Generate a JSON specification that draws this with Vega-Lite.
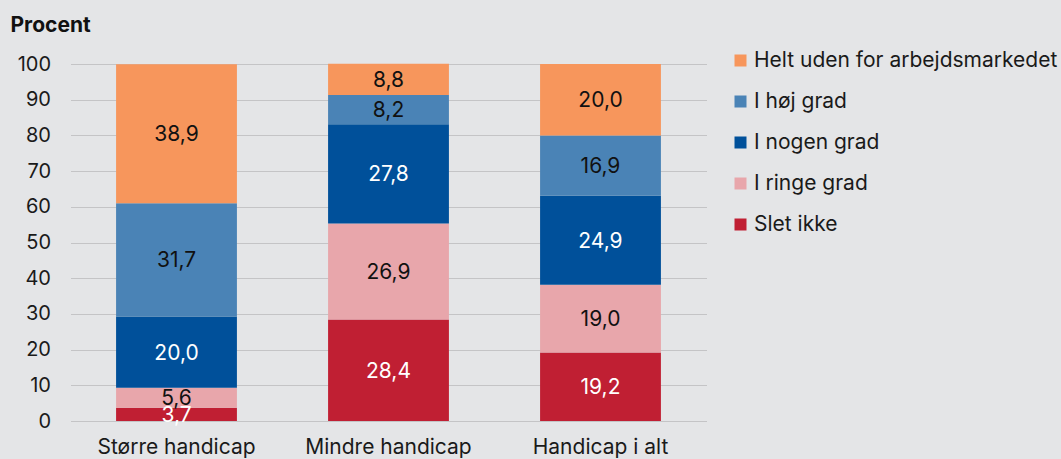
{
  "$schema": "https://vega.github.io/schema/vega-lite/v6.json",
  "width": 636,
  "height": 357,
  "autosize": "none",
  "padding": {"left": 70.5, "top": 64, "right": 354.5, "bottom": 38},
  "background": "#e4e5e7",
  "config": {
    "font": "Inter",
    "view": {"stroke": null},
    "axisY": {
      "titleAngle": 0,
      "titleAlign": "left",
      "titleBaseline": "alphabetic",
      "titleX": -60.5,
      "titleY": -33,
      "titleFontSize": 21,
      "titleFontWeight": "bold",
      "titleColor": "#111111",
      "labelOverlap": false,
      "labelFlush": false,
      "labelFontSize": 20,
      "labelColor": "#1a1a1a",
      "labelPadding": 20,
      "ticks": false,
      "domain": false,
      "grid": true,
      "gridColor": "#c4c4c6",
      "gridWidth": 1.2
    },
    "locale": {"number": {"decimal": ",", "thousands": ".", "grouping": [3], "currency": ["", " kr"]}}
  },
  "data": {
    "values": [
      {"group": "Større handicap", "cat": "Slet ikke", "value": 3.7},
      {"group": "Større handicap", "cat": "I ringe grad", "value": 5.6},
      {"group": "Større handicap", "cat": "I nogen grad", "value": 20.0},
      {"group": "Større handicap", "cat": "I høj grad", "value": 31.7},
      {"group": "Større handicap", "cat": "Helt uden for arbejdsmarkedet", "value": 38.9},
      {"group": "Mindre handicap", "cat": "Slet ikke", "value": 28.4},
      {"group": "Mindre handicap", "cat": "I ringe grad", "value": 26.9},
      {"group": "Mindre handicap", "cat": "I nogen grad", "value": 27.8},
      {"group": "Mindre handicap", "cat": "I høj grad", "value": 8.2},
      {"group": "Mindre handicap", "cat": "Helt uden for arbejdsmarkedet", "value": 8.8},
      {"group": "Handicap i alt", "cat": "Slet ikke", "value": 19.2},
      {"group": "Handicap i alt", "cat": "I ringe grad", "value": 19.0},
      {"group": "Handicap i alt", "cat": "I nogen grad", "value": 24.9},
      {"group": "Handicap i alt", "cat": "I høj grad", "value": 16.9},
      {"group": "Handicap i alt", "cat": "Helt uden for arbejdsmarkedet", "value": 20.0}
    ]
  },
  "transform": [
    {"calculate": "indexof(['Slet ikke','I ringe grad','I nogen grad','I høj grad','Helt uden for arbejdsmarkedet'], datum.cat)", "as": "rank"},
    {"stack": "value", "groupby": ["group"], "sort": [{"field": "rank", "order": "ascending"}], "as": ["y0", "y1"]},
    {"calculate": "(datum.y0 + datum.y1) / 2", "as": "mid"}
  ],
  "encoding": {
    "x": {
      "field": "group",
      "type": "nominal",
      "sort": ["Større handicap", "Mindre handicap", "Handicap i alt"],
      "scale": {"paddingInner": 0.43, "paddingOuter": 0.215},
      "axis": {
        "title": null,
        "labelAngle": 0,
        "labelFontSize": 21,
        "labelColor": "#1a1a1a",
        "labelPadding": 15,
        "ticks": false,
        "domain": false
      }
    }
  },
  "layer": [
    {
      "mark": {"type": "bar"},
      "encoding": {
        "y": {
          "field": "y0",
          "type": "quantitative",
          "scale": {"domain": [0, 100], "nice": false},
          "axis": {"title": "Procent", "values": [0, 10, 20, 30, 40, 50, 60, 70, 80, 90, 100]}
        },
        "y2": {"field": "y1"},
        "color": {
          "field": "cat",
          "type": "nominal",
          "scale": {
            "domain": ["Helt uden for arbejdsmarkedet", "I høj grad", "I nogen grad", "I ringe grad", "Slet ikke"],
            "range": ["#f7965c", "#4a83b6", "#00509a", "#e8a6ab", "#c01f33"]
          },
          "legend": {
            "title": null,
            "orient": "none",
            "legendX": 659.5,
            "legendY": -14,
            "symbolType": "square",
            "symbolSize": 144,
            "symbolStrokeWidth": 0,
            "symbolOpacity": 1,
            "labelFontSize": 21,
            "labelColor": "#1a1a1a",
            "labelOffset": 3,
            "rowPadding": 19,
            "labelLimit": 400
          }
        }
      }
    },
    {
      "mark": {"type": "text", "fontSize": 21, "baseline": "middle", "align": "center", "dy": 1.5},
      "encoding": {
        "y": {
          "field": "mid",
          "type": "quantitative",
          "axis": {"title": "Procent", "values": [0, 10, 20, 30, 40, 50, 60, 70, 80, 90, 100]}
        },
        "text": {"field": "value", "type": "quantitative", "format": ".1f"},
        "color": {
          "condition": {"test": "datum.cat === 'I nogen grad' || datum.cat === 'Slet ikke'", "value": "#ffffff"},
          "value": "#111111"
        }
      }
    }
  ]
}
